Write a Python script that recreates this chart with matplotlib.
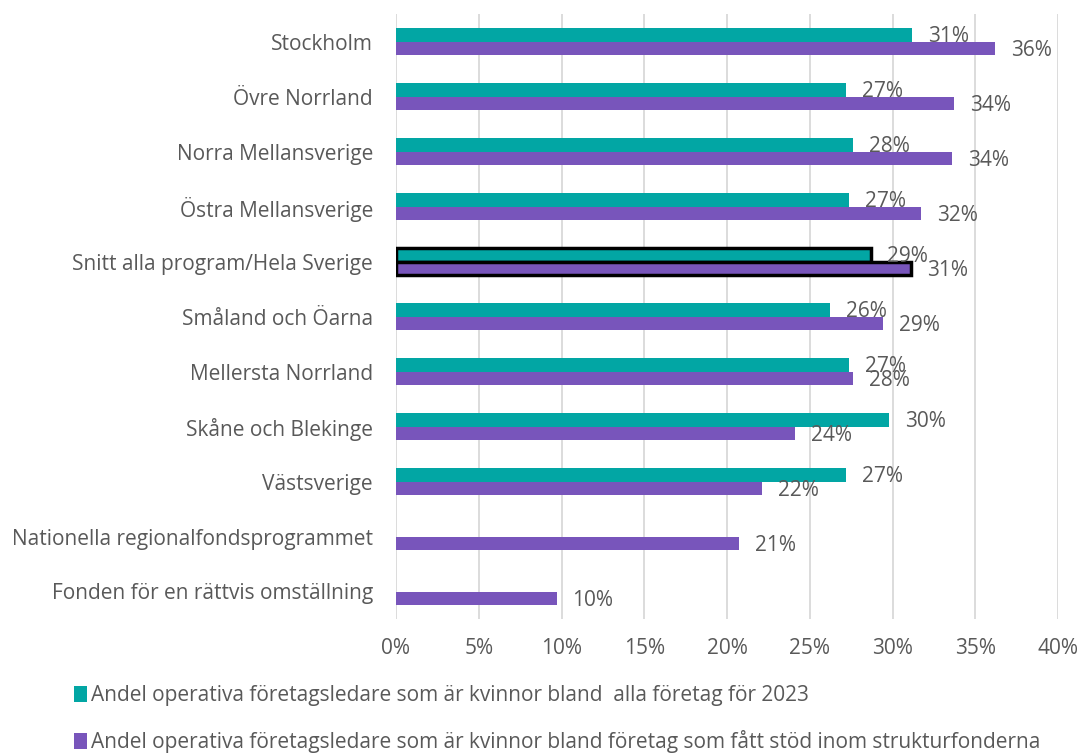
import matplotlib
matplotlib.use('agg')
import matplotlib.pyplot as plt
import numpy as np

categories = ["Stockholm", "Övre Norrland", "Norra Mellansverige", "Östra Mellansverige",
              "Snitt alla program/Hela Sverige", "Småland och Öarna", "Mellersta Norrland",
              "Skåne och Blekinge", "Västsverige", "Nationella regionalfondsprogrammet",
              "Fonden för en rättvis omställning"]
alla_2023 = [31.2, 27.2, 27.6, 27.4, 28.7, 26.2, 27.4, 29.8, 27.2, np.nan, np.nan]
strukturfonder = [36.2, 33.7, 33.6, 31.7, 31.1, 29.4, 27.6, 24.1, 22.1, 20.7, 9.7]
xticks = [0, 5, 10, 15, 20, 25, 30, 35, 40]
serie_namn = ["Andel operativa företagsledare som är kvinnor bland  alla företag för 2023",
              "Andel operativa företagsledare som är kvinnor bland företag som fått stöd inom strukturfonderna"]

teal = '#02A6A4'
purple = '#7855BB'
txt = '#595959'
fs = 15

plt.rcParams['font.family'] = ['Open Sans', 'DejaVu Sans']

fig = plt.figure(figsize=(10.8, 7.56), dpi=100)
ax = fig.add_axes([396/1080, 1-619/756, 662/1080, 605/756])

y = np.arange(len(categories))
h = 0.245
b1 = ax.barh(y - h/2, alla_2023, height=h, color=teal, zorder=3)
b2 = ax.barh(y + h/2, strukturfonder, height=h, color=purple, zorder=3)

# Snitt-raden har svart ram
i = categories.index("Snitt alla program/Hela Sverige")
b1[i].set_edgecolor('black'); b1[i].set_linewidth(2.5)
b2[i].set_edgecolor('black'); b2[i].set_linewidth(2.5)

for bars, vals in ((b1, alla_2023), (b2, strukturfonder)):
    for bar, v in zip(bars, vals):
        if np.isnan(v):
            continue
        ax.annotate("%d%%" % round(v), (v, bar.get_y() + bar.get_height()/2),
                    xytext=(16, -2), textcoords='offset pixels', ha='left', va='center',
                    fontsize=fs, color=txt, zorder=4)

ax.set_ylim(len(categories) - 0.5, -0.5)
ax.set_xlim(0, 40)
ax.set_yticks(y)
ax.set_yticklabels(categories, fontsize=fs, color=txt)
ax.set_xticks(xticks)
ax.set_xticklabels(["%d%%" % t for t in xticks], fontsize=fs, color=txt)
ax.tick_params(length=0)
ax.tick_params(axis='y', pad=16.5)
ax.tick_params(axis='x', pad=14)
ax.grid(axis='x', color='#D9D9D9', linewidth=1.3, zorder=0)
for s in ax.spines.values():
    s.set_visible(False)

leg = fig.legend([b1, b2], serie_namn, loc='upper left', bbox_to_anchor=(66/1080, 1-677/756),
                 frameon=False, fontsize=fs, handlelength=0.6, handleheight=0.75,
                 handletextpad=0.2, labelspacing=1.15, borderaxespad=0)
for t in leg.get_texts():
    t.set_color(txt)
for hnd in leg.legend_handles:
    hnd.set_edgecolor('none'); hnd.set_linewidth(0)

fig.savefig('out.png', dpi=100)
